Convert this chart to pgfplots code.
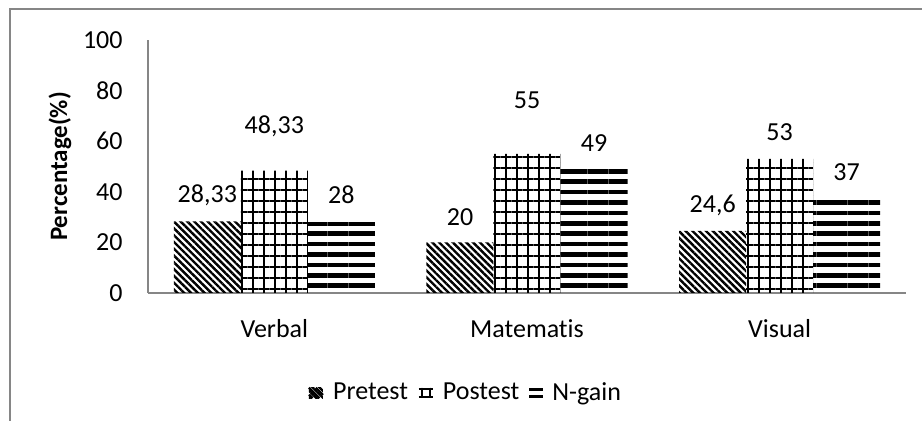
\documentclass[border=0pt]{standalone}
\usepackage{fontspec}
\setmainfont{Carlito}[Ligatures=NoCommon]
\usepackage{pgfplots}
\pgfplotsset{compat=1.18}
\usepackage{pgfplotstable}
\usetikzlibrary{patterns.meta}
\definecolor{axgray}{HTML}{868686}

\pgfplotstableread{
x y off lab
0 28.33 13 28,33
1 20 12.7 20
2 24.6 12.5 24,6
}\pretest
\pgfplotstableread{
x y off lab
0 48.33 22 48,33
1 55 27 55
2 53 13.5 53
}\postest
\pgfplotstableread{
x y off lab
0 28 13.5 28
1 49 13 49
2 37 13.5 37
}\ngain

\begin{document}
\begin{tikzpicture}
\path[use as bounding box] (0,0) rectangle (461pt,-210.5pt);
\draw[axgray, line width=0.8pt] (5pt,-212pt) -- (5pt,-4.5pt) -- (463pt,-4.5pt);
\begin{axis}[
  at={(74pt,-146.5pt)}, anchor=south west,
  scale only axis, width=379pt, height=126.5pt,
  xmin=-0.5, xmax=2.5, ymin=0, ymax=100,
  axis x line*=bottom, axis y line*=left,
  axis line style={axgray, line width=0.8pt},
  xtick={0,1,2}, xticklabels={Verbal,Matematis,Visual},
  ytick={0,20,...,100},
  major tick length=0pt,
  font=\fontsize{13}{15.6}\selectfont,
  tick label style={font=\fontsize{13}{15.6}\selectfont},
  /pgf/number format/assume math mode=true,
  yticklabel style={anchor=east, inner sep=0pt, xshift=-12.5pt},
  xticklabel style={anchor=center, inner sep=0pt, yshift=-18pt},
  ylabel={\textbf{Percentage(\%)}},
  every axis y label/.style={at={(axis description cs:-0.116,0.5)}, rotate=90, anchor=center, font=\fontsize{12.5}{15}\selectfont},
  ybar=0pt, bar width=33.5pt,
  nodes near coords,
  point meta=explicit symbolic,
  visualization depends on={\thisrow{off}\as\myoff},
  nodes near coords style={anchor=center, inner sep=0pt, yshift=\myoff pt, font=\fontsize{13}{15.6}\selectfont, text=black},
  legend columns=3,
  legend style={at={(axis description cs:0.4175,-0.395)}, anchor=center, draw=none, fill=none,
    font=\fontsize{13}{15.6}\selectfont, inner sep=0pt, nodes={inner sep=0pt},
    /tikz/every odd column/.append style={column sep=4.5pt},
    /tikz/every even column/.append style={column sep=5pt}},
]
\addplot[draw=none, bar shift=-33.5pt, pattern={Lines[angle=-45,distance=2.4pt,line width=1.2pt]}, pattern color=black,
  legend image code/.code={%
    \path (0pt,-2.6pt) rectangle (7pt,2.6pt);
    \draw[black, line width=1.1pt, line cap=butt] (0pt,-0.8pt) -- (1.8pt,-2.6pt);
    \draw[black, line width=1.1pt, line cap=butt] (0pt,2.6pt) -- (5.2pt,-2.6pt);
    \draw[black, line width=1.1pt, line cap=butt] (3.4pt,2.6pt) -- (7pt,-1pt);}]
  table[x=x, y=y, meta=lab] {\pretest};
\addplot[draw=none, bar shift=0pt, pattern={Hatch[angle=0,distance=5.5pt,line width=1.1pt]}, pattern color=black,
  legend image code/.code={%
    \draw[black, line width=1pt] (0pt,2pt) -- (7pt,2pt);
    \draw[black, line width=1pt] (0pt,-2pt) -- (7pt,-2pt);
    \draw[black, line width=1pt] (1.3pt,2.6pt) -- (1.3pt,-2.6pt);
    \draw[black, line width=1pt] (5.7pt,2.6pt) -- (5.7pt,-2.6pt);}]
  table[x=x, y=y, meta=lab] {\postest};
\addplot[draw=none, bar shift=33.5pt, pattern={Lines[angle=0,distance=5.2pt,line width=2.3pt]}, pattern color=black,
  legend image code/.code={%
    \fill[black] (0pt,1pt) rectangle (7pt,2.6pt);
    \fill[black] (0pt,-2.6pt) rectangle (7pt,-1pt);}]
  table[x=x, y=y, meta=lab] {\ngain};
\legend{Pretest, Postest, N-gain}
\end{axis}
\end{tikzpicture}
\end{document}
